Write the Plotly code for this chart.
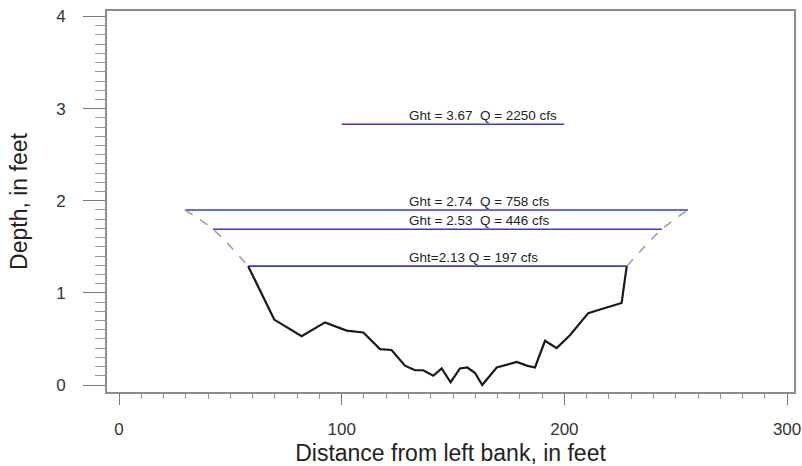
import plotly.graph_objects as go

# channel bed surveyed across the section
bed_x = [58.0, 69.7, 82.0, 92.5, 102.2, 109.7, 117.2, 122.4, 128.4, 132.9,
         136.6, 141.1, 144.9, 148.9, 153.1, 156.4, 159.9, 163.1, 169.6, 174.1,
         178.6, 183.1, 186.8, 191.3, 196.5, 202.5, 210.7, 216.0, 225.7, 228.0]
bed_depth = [1.29, 0.71, 0.53, 0.68, 0.59, 0.57, 0.39, 0.38, 0.21, 0.16,
             0.16, 0.10, 0.18, 0.03, 0.18, 0.19, 0.13, 0.00, 0.19, 0.22,
             0.25, 0.21, 0.19, 0.48, 0.40, 0.54, 0.78, 0.82, 0.89, 1.29]

# estimated bank slopes above the surveyed section
left_bank_x = [29.6, 42.2, 58.0]
left_bank_depth = [1.90, 1.69, 1.29]
right_bank_x = [228.0, 243.8, 255.5]
right_bank_depth = [1.29, 1.69, 1.90]

# water surfaces
gage_height = [2.13, 2.53, 2.74, 3.67]
discharge = [197, 446, 758, 2250]
water_depth = [1.29, 1.69, 1.90, 2.83]
water_left = [58.0, 42.2, 29.6, 100.0]
water_right = [228.0, 243.8, 255.5, 200.0]
level_labels = ["Ght=2.13 Q = 197 cfs",
                "Ght = 2.53\u00a0\u00a0Q = 446 cfs",
                "Ght = 2.74\u00a0\u00a0Q = 758 cfs",
                "Ght = 3.67\u00a0\u00a0Q = 2250 cfs"]
label_x = 129.3

font_family = "Arial, Liberation Sans, sans-serif"
axis_grey = "#8c8c8c"

fig = go.Figure()

for i in range(len(gage_height)):
    fig.add_trace(go.Scatter(
        x=[water_left[i], water_right[i]],
        y=[water_depth[i], water_depth[i]],
        mode="lines",
        line=dict(color="#3a3ad6", width=1.6),
        name=level_labels[i],
        hoverinfo="skip"
    ))
    fig.add_annotation(
        x=label_x, y=water_depth[i],
        text=level_labels[i],
        xanchor="left", yanchor="bottom",
        showarrow=False, yshift=-1,
        font=dict(family=font_family, size=13.5, color="#222222")
    )

for bx, bd in [(left_bank_x, left_bank_depth), (right_bank_x, right_bank_depth)]:
    fig.add_trace(go.Scatter(
        x=bx, y=bd, mode="lines",
        line=dict(color="#a0a0a0", width=1.6, dash="dash", shape="spline"),
        hoverinfo="skip"
    ))

fig.add_trace(go.Scatter(
    x=bed_x, y=bed_depth, mode="lines",
    line=dict(color="#1a1a1a", width=2.2),
    name="Channel bed"
))

fig.update_layout(
    width=802, height=466,
    margin=dict(l=107, r=8, t=11, b=74, autoexpand=False),
    plot_bgcolor="white",
    paper_bgcolor="white",
    showlegend=False,
    font=dict(family=font_family, color="#2a2a2a"),
    xaxis=dict(
        range=[-5.39, 303.1],
        tickvals=[0, 100, 200, 300],
        automargin=False,
        showgrid=False, zeroline=False,
        showline=True, linecolor=axis_grey, linewidth=1.6, mirror=True,
        ticks="outside", ticklen=11, tickwidth=1.4, tickcolor="#777777",
        ticklabelstandoff=10,
        tickfont=dict(size=17, color="#333333"),
        minor=dict(dtick=10, ticks="outside", ticklen=5, tickwidth=1, tickcolor="#999999"),
        title=dict(text="Distance from left bank, in feet",
                   font=dict(size=23, color="#222222"), standoff=10)
    ),
    yaxis=dict(
        range=[-0.076, 4.06],
        tickvals=[0, 1, 2, 3, 4],
        automargin=False,
        showgrid=False, zeroline=False,
        showline=True, linecolor=axis_grey, linewidth=1.6, mirror=True,
        ticks="outside", ticklen=22, tickwidth=1.4, tickcolor="#777777",
        ticklabelstandoff=14,
        tickfont=dict(size=17, color="#333333"),
        minor=dict(dtick=0.1, ticks="outside", ticklen=10, tickwidth=1, tickcolor="#999999"),
        title=dict(text="Depth, in feet",
                   font=dict(size=23, color="#222222"), standoff=22)
    )
)

# the page's default body margin would push the chart 8px right and down
fig.write_html("out.html", config={"displayModeBar": False},
               post_script="document.body.style.margin='0';")
